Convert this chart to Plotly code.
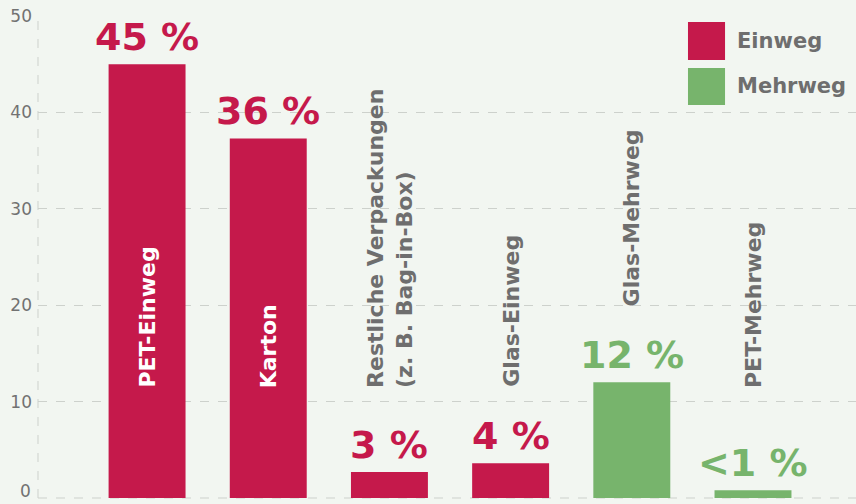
import plotly.graph_objects as go

# ---- data ----
categories = ["PET-Einweg", "Karton", "Restliche Verpackungen<br>(z. B. Bag-in-Box)",
              "Glas-Einweg", "Glas-Mehrweg", "PET-Mehrweg"]
values = [45.0, 37.3, 2.7, 3.6, 12.0, 0.8]
value_labels = ["45 %", "36 %", "3 %", "4 %", "12 %", "<1 %"]
types = ["Einweg", "Einweg", "Einweg", "Einweg", "Mehrweg", "Mehrweg"]
legend_names = ["Einweg", "Mehrweg"]
y_ticks = [0, 10, 20, 30, 40, 50]

# ---- style ----
RED = "#c5194b"
GREEN = "#77b46c"
GRAY = "#6e6e6e"
TICKGRAY = "#727272"
BG = "#f2f6f1"
GRID = "#cdd1cc"
FONT = "DejaVu Sans"
color_of = {"Einweg": RED, "Mehrweg": GREEN}

x_idx = list(range(len(categories)))

fig = go.Figure()
fig.add_trace(go.Bar(
    x=x_idx, y=values,
    marker=dict(color=[color_of[t] for t in types], line=dict(width=0)),
    width=0.635, showlegend=False, hoverinfo="skip",
))

annotations = []
label_base = 11.2
for i, (cat, v, lab, t) in enumerate(zip(categories, values, value_labels, types)):
    # value label above bar
    annotations.append(dict(
        x=i, y=v, xref="x", yref="y", text=lab, showarrow=False,
        xanchor="center", yanchor="bottom", yshift=3,
        font=dict(family=FONT, size=38, color=color_of[t], weight="bold"),
    ))
    inside = v > 20
    ypos = label_base if inside else max(label_base, v + 7.7)
    annotations.append(dict(
        x=i, y=ypos, xref="x", yref="y", text=cat, showarrow=False,
        textangle=-90, xanchor="center", yanchor="bottom", align="left",
        font=dict(family=FONT, size=22, color="white" if inside else GRAY, weight="bold"),
    ))

# custom legend
shapes = []
leg_x0, leg_x1 = 0.7946, 0.8399
leg_rows = [(0.9087, 0.9876), (0.8154, 0.8921)]
for name, (y0, y1) in zip(legend_names, leg_rows):
    shapes.append(dict(type="rect", xref="paper", yref="paper", x0=leg_x0, x1=leg_x1,
                       y0=y0, y1=y1, fillcolor=color_of[name], line=dict(width=0)))
    annotations.append(dict(
        x=0.8515, y=(y0 + y1) / 2, xref="paper", yref="paper", text=name,
        showarrow=False, xanchor="left", yanchor="middle",
        font=dict(family=FONT, size=21, color=GRAY, weight="bold"),
    ))

# bottom tick label "0" sits just above the edge (as in the reference)
tick_text = ["" if v == 0 else str(v) for v in y_ticks]
annotations.append(dict(
    x=0, y=y_ticks[0], xref="paper", yref="y", text=str(y_ticks[0]), showarrow=False,
    xanchor="right", yanchor="bottom", xshift=-5, yshift=-5,
    font=dict(family=FONT, size=17, color=TICKGRAY),
))

# dashed frame lines (left and bottom)
shapes.append(dict(type="line", xref="paper", yref="paper", x0=0, x1=0, y0=0, y1=1,
                   line=dict(color=GRID, width=1, dash="dash"), layer="below"))
shapes.append(dict(type="line", xref="paper", yref="paper", x0=0, x1=1, y0=0, y1=0,
                   line=dict(color=GRID, width=1, dash="dash"), layer="below"))

fig.update_layout(
    width=856, height=504,
    margin=dict(l=38, r=0, t=16, b=6, autoexpand=False),
    paper_bgcolor=BG, plot_bgcolor=BG,
    bargap=0.365,
    shapes=shapes, annotations=annotations,
    font=dict(family=FONT, color=GRAY),
)
fig.update_xaxes(range=[-0.9, 5.85], showticklabels=False, showgrid=False,
                 zeroline=False, showline=False, ticks="")
fig.update_yaxes(range=[0, 50], tickvals=y_ticks, ticktext=tick_text,
                 showgrid=True, gridcolor=GRID,
                 griddash="dash", gridwidth=1, zeroline=False, showline=False,
                 tickfont=dict(family=FONT, size=17, color=TICKGRAY),
                 ticklabelstandoff=5, automargin=False)

fig.write_html(
    "out.html",
    config={"displayModeBar": False},
    post_script="document.body.style.margin='0';document.body.style.background='%s';" % BG,
)
